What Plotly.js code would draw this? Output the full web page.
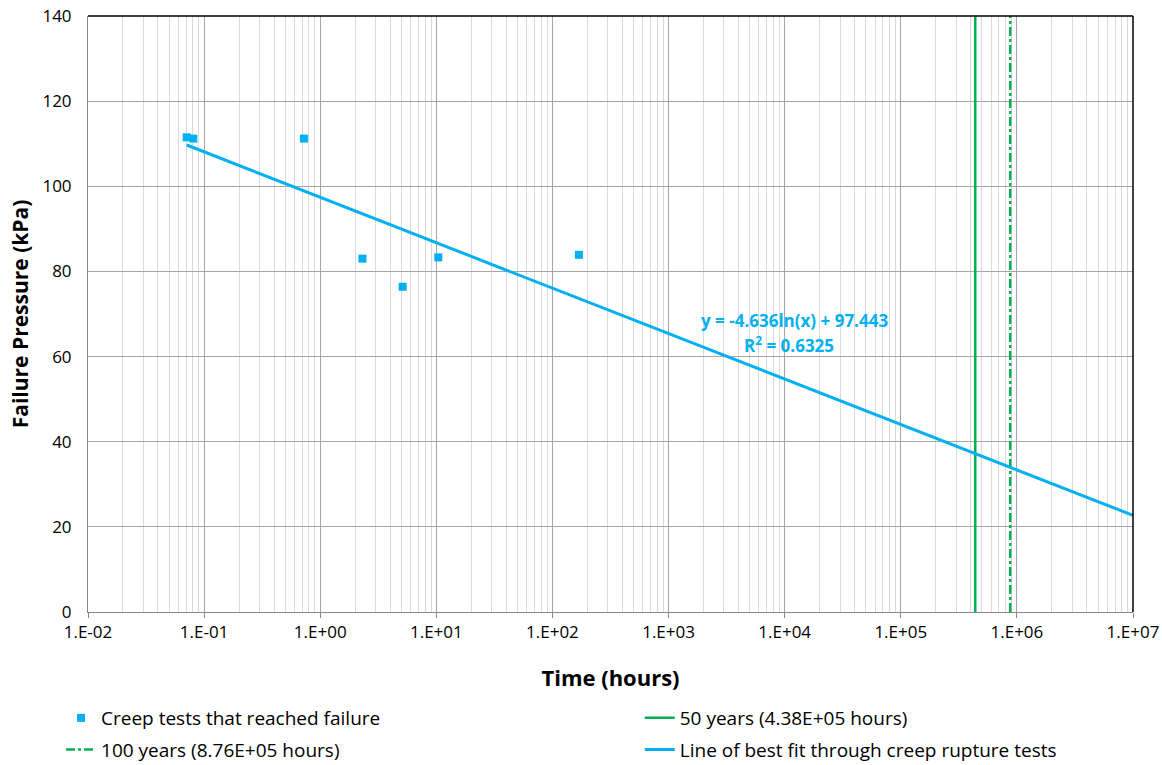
<!DOCTYPE html>
<html><head><meta charset="utf-8">
<script src="https://cdn.plot.ly/plotly-3.0.1.min.js"></script>
<style>body{margin:0;background:#fff}#chart{width:1162px;height:765px}</style>
</head><body><div id="chart"></div>
<script>
const testHours = [0.0708, 0.0807, 0.724, 2.31, 5.13, 10.4, 169];
const testPressure = [111.5, 111.2, 111.2, 83.0, 76.4, 83.3, 83.9];
const fitHours = [0.0708, 1e7];
const fitPressure = [109.7, 22.7];
const years50 = 4.38e5;
const years100 = 8.76e5;
const yRange = [0, 140];
const xTickVals = [1e-2, 1e-1, 1e0, 1e1, 1e2, 1e3, 1e4, 1e5, 1e6, 1e7];
const xTickText = ["1.E-02","1.E-01","1.E+00","1.E+01","1.E+02","1.E+03","1.E+04","1.E+05","1.E+06","1.E+07"];
const fitEquation = "y = -4.636ln(x) + 97.443";
const fitR2 = "R<sup>2</sup> = 0.6325";

const blue = '#00B0F0', green = '#00B050';
const traces = [
  {x: testHours, y: testPressure, mode: 'markers', type: 'scatter', name: 'Creep tests that reached failure',
   marker: {symbol: 'square', size: 8, color: blue}, legend: 'legend', legendgroup: 'a'},
  {x: [years50, years50], y: yRange, mode: 'lines', type: 'scatter', name: '50 years (4.38E+05 hours)',
   line: {color: green, width: 2.5}, legend: 'legend2', legendgroup: 'b'},
  {x: [years100, years100], y: yRange, mode: 'lines', type: 'scatter', name: '100 years (8.76E+05 hours)',
   line: {color: green, width: 2.5, dash: 'dashdot'}, legend: 'legend', legendgroup: 'c'},
  {x: fitHours, y: fitPressure, mode: 'lines', type: 'scatter', name: 'Line of best fit through creep rupture tests',
   line: {color: blue, width: 3}, legend: 'legend2', legendgroup: 'd'}
];
const font = "Open Sans, Liberation Sans, sans-serif";
const legendFont = {size: 19, family: font, color: '#000'};
const layout = {
  width: 1162, height: 765,
  margin: {l: 88, r: 29, t: 16, b: 153, autoexpand: false},
  paper_bgcolor: '#fff', plot_bgcolor: '#fff',
  font: {family: font, color: '#000', size: 17},
  showlegend: true,
  legend: {orientation: 'v', x: -0.0258, xanchor: 'left', y: -0.146, yanchor: 'top',
           font: legendFont, tracegroupgap: 4, bgcolor: 'rgba(0,0,0,0)'},
  legend2: {orientation: 'v', x: 0.528, xanchor: 'left', y: -0.146, yanchor: 'top',
           font: legendFont, tracegroupgap: 4, bgcolor: 'rgba(0,0,0,0)'},
  xaxis: {type: 'log', range: [-2, 7], tickvals: xTickVals, ticktext: xTickText,
          showgrid: true, gridcolor: '#a6a6a6', gridwidth: 1,
          minor: {dtick: 'D1', showgrid: true, gridcolor: '#d9d9d9', gridwidth: 1, ticks: ''},
          ticks: 'outside', ticklen: 5, tickcolor: '#888', showline: true, linecolor: '#888', linewidth: 1,
          tickfont: {size: 17}, zeroline: false,
          title: {text: '<b>Time (hours)</b>', font: {size: 22}, standoff: 28}},
  yaxis: {range: yRange, dtick: 20, showgrid: true, gridcolor: '#a6a6a6', gridwidth: 1,
          showline: true, linecolor: '#888', linewidth: 1, ticks: '', zeroline: false,
          tickfont: {size: 17}, ticklabelstandoff: 12,
          title: {text: '<b>Failure Pressure (kPa)</b>', font: {size: 21}, standoff: 8}},
  shapes: [
    {type: 'line', xref: 'paper', yref: 'paper', x0: 0, x1: 1, y0: 1, y1: 1, line: {color: '#000', width: 1.5}},
    {type: 'line', xref: 'paper', yref: 'paper', x0: 1, x1: 1, y0: 0, y1: 1, line: {color: '#000', width: 1.5}}
  ],
  annotations: [
    {x: Math.log10(1.22e4), y: 68.5, xref: 'x', yref: 'y', text: '<b>' + fitEquation + '</b>', showarrow: false,
     font: {size: 17, color: blue}, align: 'center'},
    {x: Math.log10(1.1e4), y: 62.8, xref: 'x', yref: 'y', text: '<b>' + fitR2 + '</b>', showarrow: false,
     font: {size: 17, color: blue}, align: 'center'}
  ]
};
Plotly.newPlot('chart', traces, layout, {displayModeBar: false, staticPlot: true});
</script></body></html>
